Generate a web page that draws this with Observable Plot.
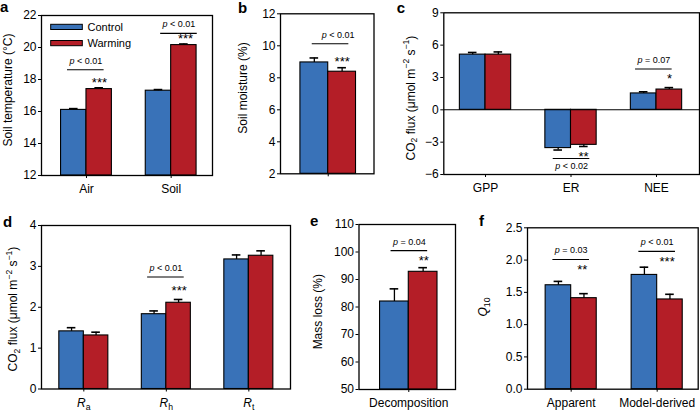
<!DOCTYPE html>
<html><head><meta charset="utf-8">
<script src="https://cdn.jsdelivr.net/npm/d3@7"></script>
<script src="https://cdn.jsdelivr.net/npm/@observablehq/plot@0.6"></script>
<style>
body{margin:0;background:#fff;}
#fig{position:relative;width:700px;height:410px;font-family:"Liberation Sans",Arial,Helvetica,sans-serif;}
#fig svg{position:absolute;overflow:visible;}
</style></head><body><div id="fig"></div>
<script>
// ---------- data ----------
const treatments = ["Control", "Warming"];

// a: soil temperature
const tempCategories = ["Air", "Soil"];
const tempControl = [16.1, 17.3];
const tempWarming = [17.4, 20.15];
const tempControlSE = [0.08, 0.07];
const tempWarmingSE = [0.08, 0.07];
const tempTicks = [12, 14, 16, 18, 20, 22];
const tempSigCat = [0, 1];
const tempSigP = ["p < 0.01", "p < 0.01"];
const tempSigStars = ["***", "***"];

// b: soil moisture
const moistCategories = [""];
const moistControl = [8.96];
const moistWarming = [8.38];
const moistControlSE = [0.28];
const moistWarmingSE = [0.25];
const moistTicks = [2, 4, 6, 8, 10, 12];
const moistSigCat = [0];
const moistSigP = ["p < 0.01"];
const moistSigStars = ["***"];

// c: CO2 fluxes
const fluxCategories = ["GPP", "ER", "NEE"];
const fluxControl = [5.12, -3.55, 1.52];
const fluxWarming = [5.12, -3.25, 1.88];
const fluxControlSE = [0.2, 0.18, 0.15];
const fluxWarmingSE = [0.25, 0.15, 0.18];
const fluxTicks = [-6, -3, 0, 3, 6, 9];
const fluxSigCat = [2, 1];
const fluxSigP = ["p = 0.07", "p < 0.02"];
const fluxSigStars = ["*", "**"];

// d: respiration components
const respCategories = ["R_a", "R_h", "R_t"];
const respControl = [1.41, 1.83, 3.17];
const respWarming = [1.31, 2.11, 3.26];
const respControlSE = [0.09, 0.08, 0.11];
const respWarmingSE = [0.08, 0.08, 0.12];
const respTicks = [0, 1, 2, 3, 4];
const respSigCat = [1];
const respSigP = ["p < 0.01"];
const respSigStars = ["***"];

// e: mass loss
const massCategories = ["Decomposition"];
const massControl = [82.0];
const massWarming = [92.8];
const massControlSE = [4.6];
const massWarmingSE = [1.5];
const massTicks = [50, 60, 70, 80, 90, 100, 110];
const massSigCat = [0];
const massSigP = ["p = 0.04"];
const massSigStars = ["**"];

// f: Q10
const q10Categories = ["Apparent", "Model-derived"];
const q10Control = [1.61, 1.77];
const q10Warming = [1.41, 1.39];
const q10ControlSE = [0.06, 0.12];
const q10WarmingSE = [0.07, 0.08];
const q10Ticks = [0, 0.5, 1.0, 1.5, 2.0, 2.5];
const q10SigCat = [0, 1];
const q10SigP = ["p = 0.03", "p < 0.01"];
const q10SigStars = ["**", "***"];

// ---------- styling ----------
const BLUE = "#3972b8", RED = "#b41e27";
const FONT = '"Liberation Sans", Arial, Helvetica, sans-serif';
const fig = document.getElementById("fig");

function addRich(sel, parts) {
  let shift = 0;
  for (const [txt, kind] of parts) {
    const t = sel.append("tspan").text(txt);
    let target = 0;
    if (kind === "sub") { target = 3.5; t.attr("font-size", "0.72em"); }
    if (kind === "sup") { target = -4.5; t.attr("font-size", "0.72em"); }
    if (kind === "i") t.attr("font-style", "italic");
    if (target !== shift) { t.attr("dy", target - shift); shift = target; }
  }
}

function build(p) {
  const L = p.layout;
  const rows = [];
  p.cats.forEach((c, i) => {
    const sets = [["Control", p.ctrl[i], p.ctrlSE[i], i - L.bw, i],
                  ["Warming", p.warm[i], p.warmSE[i], i, i + L.bw]];
    for (const [t, v, se, x1, x2] of sets) {
      const dir = v < p.base ? -1 : 1;
      rows.push({i, t, v, x1, x2, xc: (x1 + x2) / 2, e: v + dir * se});
    }
  });
  const sig = p.sigP.map((txt, k) => ({
    p: txt, stars: p.sigStars[k],
    line: L.line[k], starY: L.starY[k],
    c: p.sigCat[k] + L.center[k],
    tx: p.sigCat[k] + (L.textX ? L.textX[k] : L.center[k]),
    sx: p.sigCat[k] + L.starX[k],
    below: L.below ? L.below[k] : false
  }));
  const half = 18.3 / L.unit;
  const cap = 4.3 / L.unit;
  const marks = [
    Plot.rectY(rows, {x1: "x1", x2: "x2", y1: () => p.base, y2: "v", fill: "t", stroke: "black", strokeWidth: 1.1}),
    Plot.ruleX(rows, {x: "xc", y1: "v", y2: "e", stroke: "black", strokeWidth: 1.3}),
    Plot.ruleY(rows, {y: "e", x1: d => d.xc - cap, x2: d => d.xc + cap, stroke: "black", strokeWidth: 1.6}),
    Plot.ruleY(sig, {y: "line", x1: d => d.c - half, x2: d => d.c + half, stroke: "black", strokeWidth: 1.1}),
    Plot.text(sig.filter(d => !d.below), {x: "tx", y: "line", text: "p", dy: -9, fontSize: 9}),
    Plot.text(sig.filter(d => d.below), {x: "tx", y: "line", text: "p", dy: 8, fontSize: 9}),
    Plot.text(sig, {x: "sx", y: "starY", text: "stars", dy: 3, fontSize: 13}),
  ];
  if (p.zero) marks.push(Plot.ruleY([0], {stroke: "black", strokeWidth: 1.1}));
  marks.push(Plot.frame({stroke: "black", strokeWidth: 1.3}));

  const svg = Plot.plot({
    width: L.w, height: L.h,
    marginLeft: L.ml, marginRight: L.mr, marginTop: L.mt, marginBottom: L.mb,
    style: {fontSize: "12px", fontFamily: FONT, color: "black", background: "transparent", overflow: "visible"},
    x: {type: "linear", domain: L.xDomain, ticks: p.cats.map((c, i) => i), tickFormat: i => p.cats[Math.round(i)],
        tickSize: 3, tickPadding: 6, label: null},
    y: {domain: p.yDomain, ticks: p.ticks, tickFormat: p.tickFormat, tickSize: 3, tickPadding: 2, label: null},
    color: {domain: treatments, range: [BLUE, RED]},
    marks
  });
  svg.style.left = L.left + "px";
  svg.style.top = L.top + "px";
  fig.appendChild(svg);
  const s = d3.select(svg);

  // italic p in p-values, italic subscripted tick labels
  s.selectAll("text").each(function () {
    const txt = this.textContent;
    let m;
    if ((m = /^p ([<=].*)$/.exec(txt))) {
      this.textContent = "";
      addRich(d3.select(this), [["p", "i"], [" " + m[1], ""]]);
    } else if ((m = /^([A-Z])_(\w+)$/.exec(txt))) {
      this.textContent = "";
      addRich(d3.select(this), [[m[1], "i"], [m[2], "sub"]]);
    }
  });

  // y-axis title
  const yt = s.append("text")
    .attr("transform", `translate(${L.yt[0]},${L.yt[1]}) rotate(-90)`)
    .attr("text-anchor", "middle").attr("dominant-baseline", "central")
    .attr("font-size", 12).attr("fill", "black").attr("font-family", FONT);
  addRich(yt, p.yTitle);

  // panel letter
  s.append("text").attr("x", L.letter[0]).attr("y", L.letter[1])
    .attr("text-anchor", "start")
    .attr("font-size", 15).attr("font-weight", "bold").attr("font-family", FONT)
    .text(p.letter);
  return s;
}

const tickNum = d => d < 0 ? "\u2212" + (-d) : String(d);
const co2Title = [["CO", ""], ["2", "sub"], [" flux (\u03bcmol m", ""], ["\u22122", "sup"], [" s", ""], ["\u22121", "sup"], [")", ""]];

const sA = build({
  letter: "a", cats: tempCategories, ctrl: tempControl, warm: tempWarming, ctrlSE: tempControlSE, warmSE: tempWarmingSE,
  base: 12, yDomain: [12, 22], ticks: tempTicks, tickFormat: tickNum,
  sigCat: tempSigCat, sigP: tempSigP, sigStars: tempSigStars,
  yTitle: [["Soil temperature (\u00b0C)", ""]],
  layout: {left: 0, top: 0, w: 225, h: 205, ml: 41, mr: 13, mt: 15, mb: 30, xDomain: [-0.531, 1.488], bw: 0.3, unit: 84.7,
           line: [18.61, 20.88], starY: [17.99, 20.73], center: [-0.008, 0.092], starX: [0.153, 0.169],
           yt: [8, 90], letter: [0, 12]}
});
// legend inside panel a
[["Control", BLUE, 24.3], ["Warming", RED, 40.5]].forEach(([name, col, y]) => {
  sA.append("rect").attr("x", 50.7).attr("y", y).attr("width", 31.6).attr("height", 5.2)
    .attr("fill", col).attr("stroke", "black").attr("stroke-width", 1);
  sA.append("text").attr("x", 87.5).attr("y", y + 2.6).attr("dominant-baseline", "central")
    .attr("text-anchor", "start")
    .attr("font-size", 11).attr("font-family", FONT).text(name);
});

build({
  letter: "b", cats: moistCategories, ctrl: moistControl, warm: moistWarming, ctrlSE: moistControlSE, warmSE: moistWarmingSE,
  base: 2, yDomain: [2, 12], ticks: moistTicks, tickFormat: tickNum,
  sigCat: moistSigCat, sigP: moistSigP, sigStars: moistSigStars,
  yTitle: [["Soil moisture (%)", ""]],
  layout: {left: 225, top: 0, w: 160, h: 205, ml: 55, mr: 11.5, mt: 13.3, mb: 31.7, xDomain: [-0.515, 0.494], bw: 0.3, unit: 92.7,
           line: [10.125], starY: [9.19], center: [0.025], textX: [0.108], starX: [0.151],
           yt: [18.3, 88], letter: [13, 12.7]}
});

build({
  letter: "c", cats: fluxCategories, ctrl: fluxControl, warm: fluxWarming, ctrlSE: fluxControlSE, warmSE: fluxWarmingSE,
  base: 0, zero: true, yDomain: [-6, 9], ticks: fluxTicks, tickFormat: tickNum,
  sigCat: fluxSigCat, sigP: fluxSigP, sigStars: fluxSigStars,
  yTitle: co2Title,
  layout: {left: 385, top: 0, w: 315, h: 205, ml: 58.3, mr: 1, mt: 12.3, mb: 31, xDomain: [-0.488, 2.503], bw: 0.3, unit: 85.5,
           line: [3.78, -4.51], starY: [3.13, -4.09], center: [-0.031, 0.006], starX: [0.152, 0.146], below: [false, true],
           yt: [25.7, 98], letter: [11.7, 12.7]}
});

build({
  letter: "d", cats: respCategories, ctrl: respControl, warm: respWarming, ctrlSE: respControlSE, warmSE: respWarmingSE,
  base: 0, yDomain: [0, 4], ticks: respTicks, tickFormat: tickNum,
  sigCat: respSigCat, sigP: respSigP, sigStars: respSigStars,
  yTitle: co2Title,
  layout: {left: 0, top: 205, w: 300, h: 205, ml: 41, mr: 10, mt: 20, mb: 21.5, xDomain: [-0.513, 2.505], bw: 0.297, unit: 82.5,
           line: [2.74], starY: [2.48], center: [-0.005], starX: [0.156],
           yt: [13.3, 104], letter: [3, 21.7]}
});

build({
  letter: "e", cats: massCategories, ctrl: massControl, warm: massWarming, ctrlSE: massControlSE, warmSE: massWarmingSE,
  base: 50, yDomain: [50, 110], ticks: massTicks, tickFormat: tickNum,
  sigCat: massSigCat, sigP: massSigP, sigStars: massSigStars,
  yTitle: [["Mass loss (%)", ""]],
  layout: {left: 300, top: 205, w: 165, h: 205, ml: 58.5, mr: 10, mt: 19, mb: 21, xDomain: [-0.52, 0.488], bw: 0.3, unit: 95.7,
           line: [100.5], starY: [97.9], center: [0.006], starX: [0.157],
           yt: [18.3, 106.7], letter: [10, 21]}
});

build({
  letter: "f", cats: q10Categories, ctrl: q10Control, warm: q10Warming, ctrlSE: q10ControlSE, warmSE: q10WarmingSE,
  base: 0, yDomain: [0, 2.5], ticks: q10Ticks, tickFormat: d3.format(".1f"),
  sigCat: q10SigCat, sigP: q10SigP, sigStars: q10SigStars,
  yTitle: [["Q", "i"], ["10", "sub"]],
  layout: {left: 465, top: 205, w: 235, h: 205, ml: 62, mr: 2.3, mt: 22.3, mb: 21.3, xDomain: [-0.508, 1.477], bw: 0.297, unit: 86,
           line: [2.01, 2.135], starY: [1.89, 2.02], center: [0, 0], starX: [0.128, 0.116],
           yt: [18, 102], letter: [14, 21]}
});
</script>
</body></html>
